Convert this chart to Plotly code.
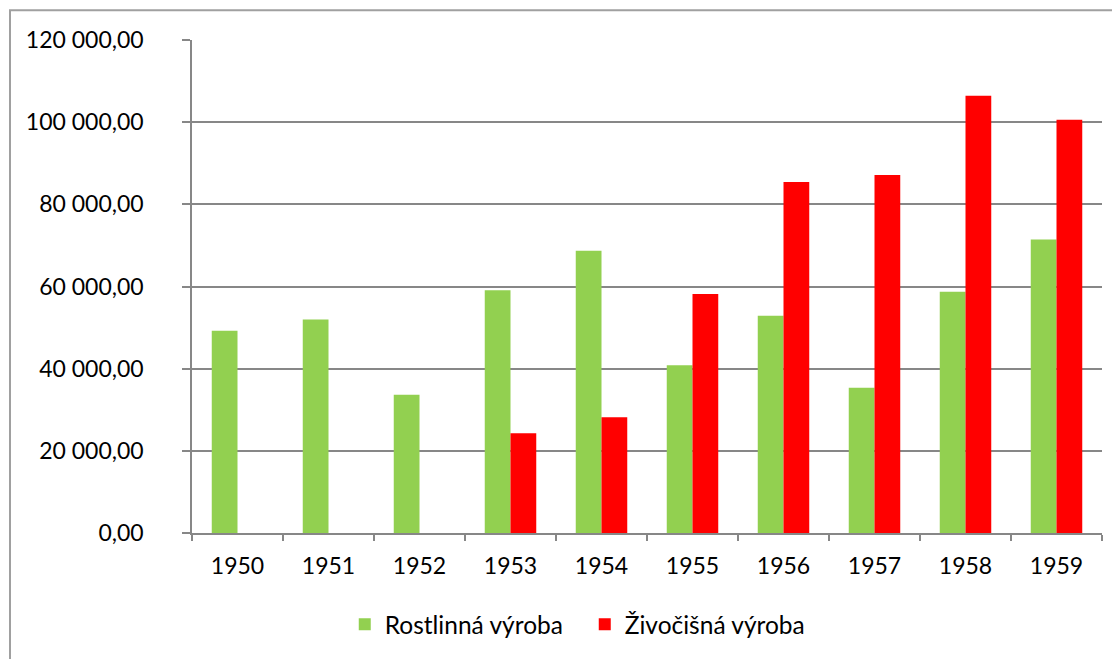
import plotly.graph_objects as go

# roky a hodnoty
roky = ['1950', '1951', '1952', '1953', '1954', '1955', '1956', '1957', '1958', '1959']
rostlinna = [49200, 51950, 33650, 59100, 68700, 40850, 52850, 35350, 58700, 71450]
zivocisna = [None, None, None, 24250, 28150, 58150, 85450, 87150, 106450, 100600]

grid_color = '#878787'

fig = go.Figure()

fig.add_trace(go.Bar(
    x=roky,
    y=rostlinna,
    name='Rostlinná výroba',
    marker=dict(color='#92D050', line=dict(width=0)),
))

fig.add_trace(go.Bar(
    x=roky,
    y=zivocisna,
    name='Živočišná výroba',
    marker=dict(color='#FF0000', line=dict(width=0)),
))

# stránka má okraj 8 px, proto menší rozměry
fig.update_layout(
    width=1112,
    height=651,
    barmode='group',
    bargap=0.434,
    bargroupgap=0,
    separators=', ',
    paper_bgcolor='white',
    plot_bgcolor='white',
    margin=dict(l=184, r=18, t=32, b=112),
    font=dict(family='Lato, Open Sans, sans-serif', size=23, color='#000000'),
    showlegend=True,
    legend=dict(
        orientation='h',
        x=0.4316, xanchor='center',
        y=-0.185, yanchor='middle',
        font=dict(size=24.5),
        itemwidth=30,
        entrywidth=195,
        entrywidthmode='pixels',
    ),
    # rámeček kolem celého grafu
    shapes=[dict(
        type='rect', xref='paper', yref='paper',
        x0=-182 / 910, x1=1.1, y0=-0.4, y1=1 + 30 / 496,
        line=dict(color='#A0A0A0', width=2),
        layer='below',
    )],
)

fig.update_yaxes(
    range=[0, 120000],
    dtick=20000,
    tickformat=',.2f',
    showgrid=True,
    gridcolor=grid_color,
    gridwidth=1.5,
    showline=True,
    linecolor=grid_color,
    linewidth=1.5,
    ticks='outside',
    ticklen=8,
    tickcolor=grid_color,
    tickwidth=1.5,
    ticklabelstandoff=34,
    zeroline=False,
)

fig.update_xaxes(
    type='category',
    showline=True,
    linecolor=grid_color,
    linewidth=1.5,
    ticks='outside',
    tickson='boundaries',
    ticklen=6,
    tickcolor=grid_color,
    tickwidth=1.5,
    ticklabelstandoff=12,
    showgrid=False,
)

fig.write_html('out.html')
